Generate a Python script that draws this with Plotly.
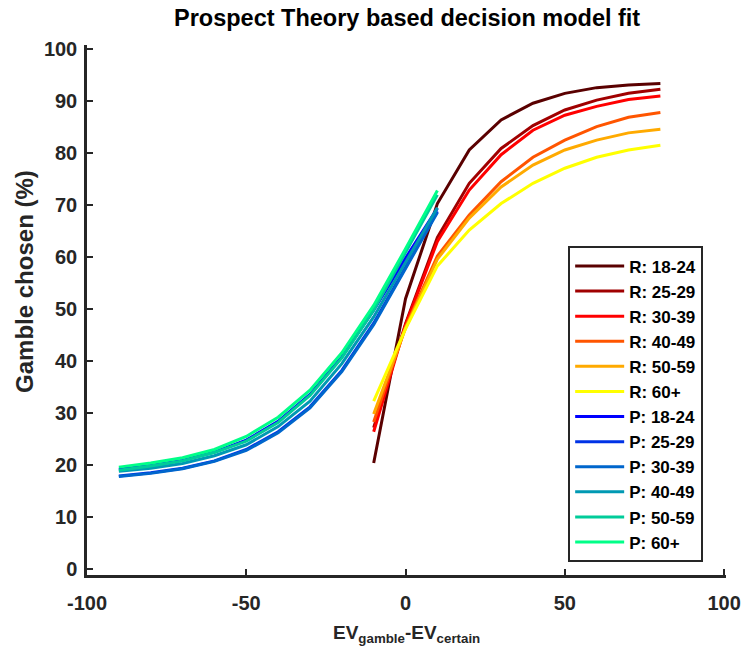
import plotly.graph_objects as go

# ---------------- data ----------------
x_p = [-90, -80, -70, -60, -50, -40, -30, -20, -10, 0, 10]
x_r = [-10, 0, 10, 20, 30, 40, 50, 60, 70, 80]

r_18_24 = [20.4, 52.0, 70.3, 80.6, 86.4, 89.6, 91.5, 92.6, 93.1, 93.4]
r_25_29 = [27.2, 47.2, 63.8, 74.2, 80.9, 85.3, 88.3, 90.2, 91.5, 92.3]
r_30_39 = [26.4, 47.0, 63.0, 72.9, 79.7, 84.4, 87.3, 89.0, 90.3, 91.0]
r_40_49 = [28.3, 46.6, 60.2, 68.1, 74.5, 79.2, 82.5, 85.1, 86.9, 87.8]
r_50_59 = [29.8, 46.3, 59.6, 67.5, 73.5, 77.7, 80.6, 82.5, 83.9, 84.6]
r_60p = [32.3, 46.2, 58.3, 65.2, 70.3, 74.2, 77.1, 79.2, 80.6, 81.5]

p_18_24 = [19.2, 19.9, 20.9, 22.5, 24.8, 28.4, 33.6, 40.8, 49.8, 59.8, 69.4]
p_25_29 = [17.9, 18.5, 19.4, 20.8, 23.0, 26.4, 31.2, 38.2, 47.3, 58.0, 68.8]
p_30_39 = [17.8, 18.4, 19.3, 20.7, 22.8, 26.2, 31.0, 38.0, 47.0, 57.8, 68.6]
p_40_49 = [18.8, 19.4, 20.3, 21.8, 23.9, 27.4, 32.3, 39.5, 48.5, 59.0, 69.5]
p_50_59 = [19.0, 19.8, 20.8, 22.4, 24.6, 28.2, 33.4, 40.6, 49.8, 60.8, 72.0]
p_60p = [19.6, 20.4, 21.4, 23.0, 25.5, 29.2, 34.4, 41.6, 50.7, 61.6, 72.8]

labels = ["R: 18-24", "R: 25-29", "R: 30-39", "R: 40-49", "R: 50-59", "R: 60+",
          "P: 18-24", "P: 25-29", "P: 30-39", "P: 40-49", "P: 50-59", "P: 60+"]
colors = ["#5a0000", "#a00000", "#ff0000", "#ff5500", "#ffaa00", "#ffff00",
          "#0000ff", "#0033e6", "#0066cc", "#0099b3", "#00cc99", "#00ff88"]

x_ticks = [-100, -50, 0, 50, 100]
x_ticktext = ["-100", "-50", "0", "50", "100"]
y_ticks = [0, 10, 20, 30, 40, 50, 60, 70, 80, 90, 100]

series = [(x_r, r_18_24), (x_r, r_25_29), (x_r, r_30_39), (x_r, r_40_49),
          (x_r, r_50_59), (x_r, r_60p),
          (x_p, p_18_24), (x_p, p_25_29), (x_p, p_30_39), (x_p, p_40_49),
          (x_p, p_50_59), (x_p, p_60p)]

FONT = "Liberation Sans, Arial, Helvetica, sans-serif"
AX = "#262626"

fig = go.Figure()
for (xs, ys), name, col in zip(series, labels, colors):
    fig.add_trace(go.Scatter(x=xs, y=ys, mode="lines", name=name,
                             line=dict(color=col, width=3)))

axis_common = dict(showgrid=False, zeroline=False, showline=True,
                   linecolor=AX, linewidth=2.5, ticks="inside", ticklen=6,
                   tickwidth=2, tickcolor=AX, mirror=False,
                   tickfont=dict(family=FONT, size=20, color=AX, weight="bold"))

fig.update_layout(
    width=753, height=657,
    margin=dict(l=87, r=18, t=45, b=82),
    paper_bgcolor="white", plot_bgcolor="white",
    xaxis=dict(range=[-100, 100.6], tickvals=x_ticks, ticktext=x_ticktext,
               ticklabelstandoff=8, **axis_common),
    yaxis=dict(range=[-1.15, 100.8], tickvals=y_ticks, ticklabelstandoff=3,
               **axis_common),
    legend=dict(x=0.753, y=0.62, xanchor="left", yanchor="top",
                bordercolor=AX, borderwidth=2, bgcolor="white",
                itemwidth=49,
                font=dict(family=FONT, size=17, color="black", weight="bold"),
                tracegroupgap=0),
    annotations=[
        dict(text="Prospect Theory based decision model fit", xref="paper", yref="paper",
             x=0.5, y=1.051, xanchor="center", yanchor="middle", showarrow=False,
             font=dict(family=FONT, size=23.5, color="black", weight="bold")),
        dict(text="Gamble chosen (%)", xref="paper", yref="paper",
             x=-0.097, y=0.553, xanchor="center", yanchor="middle", showarrow=False,
             textangle=-90,
             font=dict(family=FONT, size=24, color=AX, weight="bold")),
        dict(text="EV<sub>gamble</sub>-EV<sub>certain</sub>", xref="paper", yref="paper",
             x=0.5, y=-0.112, xanchor="center", yanchor="middle", showarrow=False,
             font=dict(family=FONT, size=19, color=AX, weight="bold")),
    ],
)

fig.write_html("out.html")
